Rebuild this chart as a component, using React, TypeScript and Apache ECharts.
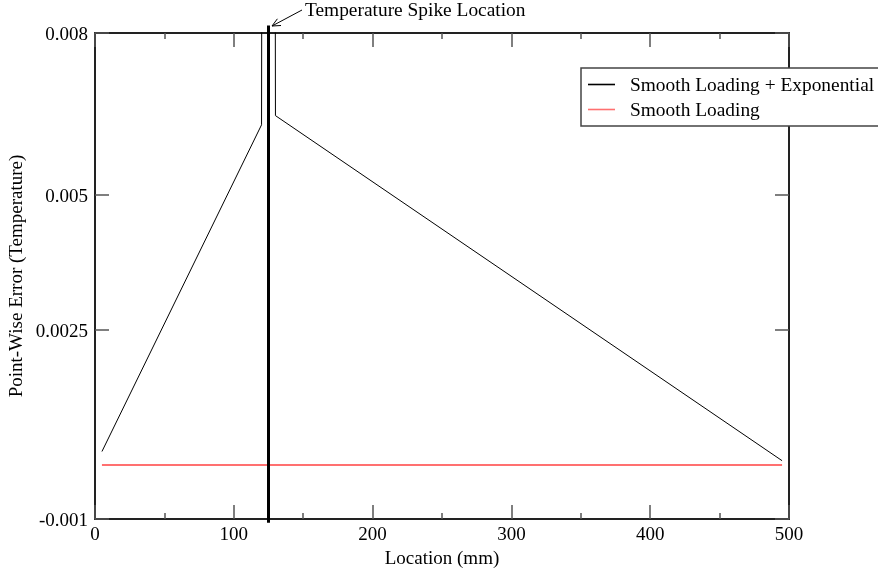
import React, { useEffect, useRef } from "react";
import * as echarts from "echarts";

const xSmoothExp = [5, 120, 125, 130, 495];
const ySmoothExp = [0.00025, 0.0063, 0.1, 0.00647, 0.00008];
const xSmooth = [5, 495];
const ySmooth = [0, 0];
const spikeX = [125, 125];
const spikeY = [-0.00107, 0.00814];
const yTickValues = [-0.001, 0.0025, 0.005, 0.008];
const yTickLabels = ["-0.001", "0.0025", "0.005", "0.008"];

const FONT = '"Liberation Serif", "Times New Roman", serif';

const pair = (xs: number[], ys: number[]) => xs.map((x, i) => [x, ys[i]]);

export default function App() {
  const ref = useRef<HTMLDivElement>(null);
  useEffect(() => {
    if (!ref.current) return;
    const chart = echarts.init(ref.current, null, { renderer: "svg" });
    const tickStyle = { color: "#555", width: 1.5 };
    const axisLineStyle = { color: "#222", width: 2 };
    const yFmt = (v: number) => {
      const i = yTickValues.findIndex((t) => Math.abs(t - v) < 1e-9);
      return i >= 0 ? yTickLabels[i] : "";
    };
    const xBase = {
      type: "value",
      min: 0,
      max: 500,
      interval: 100,
      axisLine: { show: true, onZero: false, lineStyle: axisLineStyle },
      axisTick: { show: true, inside: true, length: 14, lineStyle: tickStyle },
      minorTick: { show: true, splitNumber: 2, length: 6, lineStyle: tickStyle },
      splitLine: { show: false },
      minorSplitLine: { show: false },
    };
    const yBase = {
      type: "value",
      min: -0.001,
      max: 0.008,
      axisLine: { show: true, onZero: false, lineStyle: axisLineStyle },
      axisTick: { show: true, inside: true, length: 14, customValues: yTickValues, lineStyle: tickStyle },
      splitLine: { show: false },
    };
    chart.setOption({
      animation: false,
      textStyle: { fontFamily: FONT },
      grid: { left: 95, top: 33, right: 89, bottom: 52, containLabel: false, outerBoundsMode: "none" },
      xAxis: [
        {
          ...xBase,
          position: "bottom",
          axisLabel: { color: "#000", fontSize: 19, margin: 5, fontFamily: FONT },
          name: "Location (mm)",
          nameLocation: "middle",
          nameGap: 26,
          nameTextStyle: { fontSize: 19, color: "#000", fontFamily: FONT },
        },
        { ...xBase, position: "top", axisLabel: { show: false } },
      ],
      yAxis: [
        {
          ...yBase,
          position: "left",
          axisLabel: { color: "#000", fontSize: 19, margin: 7, fontFamily: FONT, customValues: yTickValues, formatter: yFmt },
          name: "Point-Wise Error (Temperature)",
          nameLocation: "middle",
          nameGap: 62,
          nameRotate: 90,
          nameTextStyle: { fontSize: 19, color: "#000", fontFamily: FONT },
        },
        { ...yBase, position: "right", axisLabel: { show: false } },
      ],
      legend: {
        data: [
          { name: "Smooth Loading + Exponential", icon: "rect", itemStyle: { color: "#000" } },
          { name: "Smooth Loading", icon: "rect", itemStyle: { color: "#ff7070" } },
        ],
        orient: "vertical",
        left: 581,
        top: 68,
        padding: [7, 24, 7, 7],
        itemWidth: 27,
        itemHeight: 1.6,
        itemGap: 6,
        backgroundColor: "#fff",
        borderColor: "#444",
        borderWidth: 1.5,
        selectedMode: false,
        textStyle: { fontSize: 19.4, color: "#000", fontFamily: FONT, padding: [0, 0, 0, 10] },
      },
      graphic: [
        {
          type: "text",
          left: 305,
          top: 0,
          z: 10,
          style: { text: "Temperature Spike Location", fontSize: 19.4, fontFamily: FONT, fill: "#000" },
        },
        {
          type: "line",
          z: 10,
          shape: { x1: 302, y1: 10, x2: 272, y2: 26 },
          style: { stroke: "#000", lineWidth: 1 },
        },
        {
          type: "polyline",
          z: 10,
          shape: { points: [[281, 25.5], [272, 26], [277.4, 18.8]] },
          style: { stroke: "#000", lineWidth: 1, fill: null },
        },
      ],
      series: [
        {
          name: "Smooth Loading + Exponential",
          type: "line",
          data: pair(xSmoothExp, ySmoothExp),
          symbol: "none",
          lineStyle: { color: "#000", width: 1 },
          itemStyle: { color: "#000" },
          z: 3,
        },
        {
          name: "Smooth Loading",
          type: "line",
          data: pair(xSmooth, ySmooth),
          symbol: "none",
          lineStyle: { color: "#ff7070", width: 2 },
          itemStyle: { color: "#ff7070" },
          z: 2,
        },
        {
          name: "spike",
          type: "line",
          data: pair(spikeX, spikeY),
          symbol: "none",
          clip: false,
          lineStyle: { color: "#000", width: 3 },
          z: 4,
        },
      ],
    });
    return () => chart.dispose();
  }, []);
  return <div ref={ref} style={{ position: "fixed", left: 0, top: 0, width: 878, height: 571 }} />;
}
